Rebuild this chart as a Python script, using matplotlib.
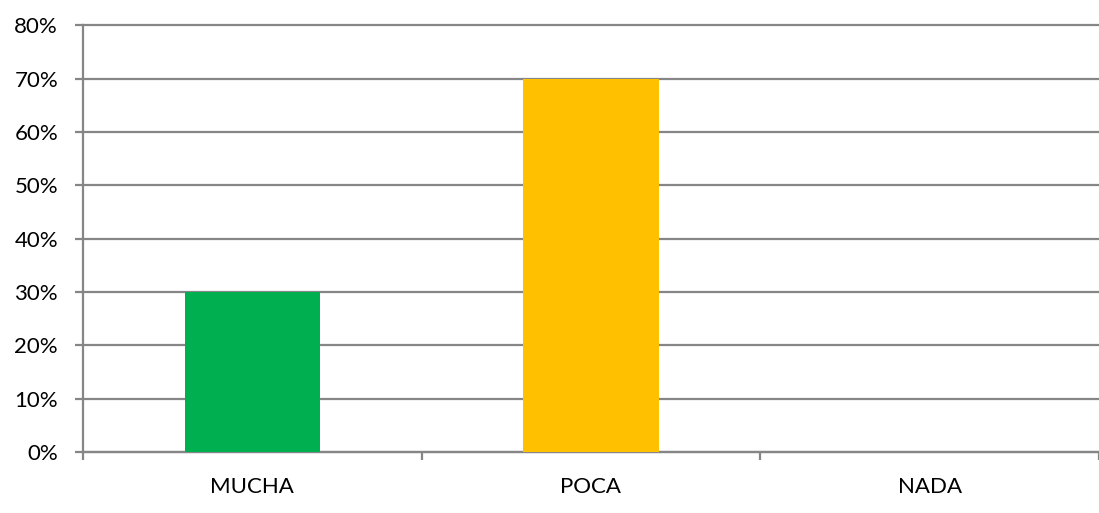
import numpy as np
import matplotlib.pyplot as plt
from matplotlib.ticker import FixedLocator, PercentFormatter

categories = ['MUCHA', 'POCA', 'NADA']
values = [30, 70, 0]
colors = ['#00B050', '#FFC000', '#4F81BD']

plt.rcParams['font.family'] = ['Lato', 'DejaVu Sans']

fig = plt.figure(figsize=(10.99, 5.13), dpi=100)
ax = fig.add_axes([83 / 1099, 1 - 452 / 513, 1 - 83 / 1099, (452 - 25.5) / 513])

x = np.arange(len(categories))
ax.bar(x, values, width=0.4, color=colors, zorder=3)

ax.set_xlim(-0.5, len(categories) - 0.5)
ax.set_ylim(0, 80)
ax.set_yticks(np.arange(0, 81, 10))
ax.yaxis.set_major_formatter(PercentFormatter(decimals=0))
ax.grid(axis='y', color='#868686', linewidth=1.6, zorder=0)
for line in ax.get_ygridlines():
    line.set_clip_on(False)

ax.set_xticks(x)
ax.set_xticklabels(categories)
ax.xaxis.set_minor_locator(FixedLocator(np.arange(-0.5, len(categories), 1.0)))
ax.tick_params(axis='x', which='major', length=0, pad=18, labelsize=16)
ax.tick_params(axis='x', which='minor', length=6, width=1.6, color='#868686')
ax.tick_params(axis='y', length=6, width=1.6, color='#868686', pad=12, labelsize=16)

for s in ['top', 'right']:
    ax.spines[s].set_visible(False)
for s in ['left', 'bottom']:
    ax.spines[s].set_color('#868686')
    ax.spines[s].set_linewidth(1.6)

fig.savefig('out.png', dpi=100)
